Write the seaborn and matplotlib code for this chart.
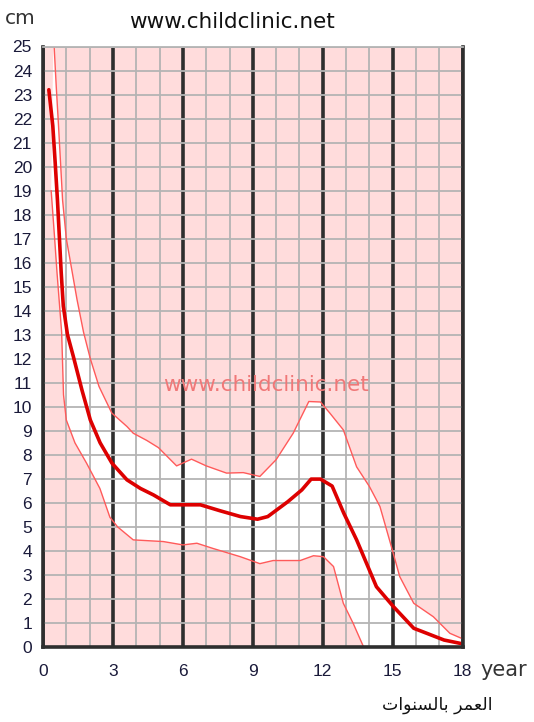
import numpy as np
import pandas as pd
import matplotlib
matplotlib.use("Agg")
import matplotlib.pyplot as plt
import seaborn as sns

# ---- data ----
median_age = [0.25, 0.42, 0.52, 0.62, 0.70, 0.78, 0.87, 1.05, 1.30, 1.67, 2.03, 2.45, 2.96,
              3.60, 4.18, 4.74, 5.46, 6.75, 7.60, 8.47, 9.20, 9.64, 10.5, 11.1, 11.5, 11.9,
              12.4, 12.9, 13.45, 14.3, 15.03, 15.9, 16.46, 17.2, 17.9]
median_cm = [23.2, 21.7, 20.2, 18.6, 17.1, 15.6, 14.2, 13.0, 12.1, 10.7, 9.45, 8.5, 7.65,
             6.96, 6.6, 6.33, 5.92, 5.92, 5.67, 5.43, 5.32, 5.43, 6.05, 6.54, 6.99, 6.99,
             6.7, 5.57, 4.46, 2.51, 1.68, 0.78, 0.57, 0.29, 0.15]

upper_age = [0.45, 0.57, 0.66, 0.84, 1.0, 1.46, 1.74, 2.03, 2.4, 2.95, 3.6, 3.87, 4.45, 4.95,
             5.73, 6.37, 7.0, 7.87, 8.59, 9.3, 10.0, 10.73, 11.4, 11.9, 12.3, 12.88, 13.45,
             14.0, 14.45, 14.9, 15.3, 15.9, 16.74, 17.45, 17.95]
upper_cm = [25.5, 23.3, 21.8, 18.6, 17.0, 14.46, 13.1, 12.0, 10.85, 9.74, 9.18, 8.9, 8.6, 8.3,
            7.54, 7.82, 7.54, 7.24, 7.26, 7.1, 7.8, 8.9, 10.22, 10.2, 9.74, 9.04, 7.5,
            6.68, 5.85, 4.32, 2.93, 1.82, 1.26, 0.57, 0.36]

lower_age = [0.35, 0.5, 0.6, 0.8, 0.88, 1.0, 1.37, 1.87, 2.44, 2.87, 3.2, 3.87, 5.16, 6.0,
             6.6, 7.3, 8.46, 9.3, 9.87, 11.03, 11.6, 12.03, 12.46, 12.88, 13.3, 13.75]
lower_cm = [19.0, 17.0, 15.6, 13.1, 10.5, 9.45, 8.5, 7.65, 6.6, 5.4, 5.0, 4.46, 4.39, 4.25,
            4.32, 4.1, 3.76, 3.47, 3.6, 3.6, 3.8, 3.76, 3.35, 1.82, 0.99, 0.0]

x_ticks = [0, 3, 6, 9, 12, 15, 18]
y_ticks = list(range(0, 26))
title_text = "www.childclinic.net"
watermark_text = "www.childclinic.net"
x_unit = "year"
y_unit = "cm"
# Arabic "العمر بالسنوات" in shaped presentation forms (visual order)
x_label_ar = "\ufe95\ufe8d\ufeee\ufee8\ufeb4\ufedf\ufe8e\ufe91 \ufeae\ufee4\ufecc\ufedf\ufe8d"

PINK = "#ffdcdc"

sns.set_style("white")
plt.rcParams["font.family"] = ["Liberation Sans", "DejaVu Sans"]

fig = plt.figure(figsize=(5.34, 7.22), dpi=100)
ax = fig.add_axes([43 / 534, 1 - 647 / 722, (462.7 - 43) / 534, (647 - 46.5) / 722])
ax.set_facecolor(PINK)

xmin, xmax = x_ticks[0], x_ticks[-1]
ymin, ymax = y_ticks[0], y_ticks[-1]

# white band between upper and lower curves
poly_x = list(upper_age) + [xmax] + list(lower_age[::-1])
poly_y = list(upper_cm) + [ymin] + list(lower_cm[::-1])
ax.fill(poly_x, poly_y, color="white", zorder=1, lw=0)

df_med = pd.DataFrame({"age": median_age, "cm": median_cm})
df_up = pd.DataFrame({"age": upper_age, "cm": upper_cm})
df_lo = pd.DataFrame({"age": lower_age, "cm": lower_cm})

sns.lineplot(data=df_up, x="age", y="cm", ax=ax, color="#ff5a5a", lw=1.0, sort=False, zorder=4)
sns.lineplot(data=df_lo, x="age", y="cm", ax=ax, color="#ff5a5a", lw=1.0, sort=False, zorder=4)
sns.lineplot(data=df_med, x="age", y="cm", ax=ax, color="#dd0000", lw=2.6, sort=False, zorder=5)

ax.set_xlim(xmin, xmax)
ax.set_ylim(ymin, ymax)

# grid
ax.set_axisbelow(False)
ax.set_xticks(x_ticks)
ax.set_xticks(np.arange(xmin, xmax + 1, 1), minor=True)
ax.set_yticks(y_ticks)
ax.grid(which="minor", axis="x", color="#b4b4b4", lw=1.3, zorder=2)
ax.grid(which="major", axis="y", color="#b4b4b4", lw=1.3, zorder=2)
ax.grid(which="major", axis="x", color="#2e2e2e", lw=2.6, zorder=3)

for s in ["left", "bottom", "right"]:
    ax.spines[s].set_color("#2e2e2e")
    ax.spines[s].set_linewidth(2.6)
ax.spines["top"].set_color("#b4b4b4")
ax.spines["top"].set_linewidth(1.3)
for sp in ax.spines.values():
    sp.set_zorder(6)

ax.tick_params(axis="both", which="both", length=0)
ax.tick_params(axis="y", pad=8, labelsize=12.5, labelcolor="#1a1a3a")
ax.tick_params(axis="x", pad=12, labelsize=12.5, labelcolor="#1a1a3a")
ax.set_xlabel("")
ax.set_ylabel("")

# watermark
ax.text(9.55, 10.9, watermark_text, color="#f07878", fontsize=15.5,
        ha="center", va="center", zorder=3.5, family=["DejaVu Sans"])

# texts
fig.text(232 / 534, 1 - 22 / 722, title_text, ha="center", va="center",
         fontsize=15.5, color="#111111", family=["DejaVu Sans"])
fig.text(20 / 534, 1 - 18 / 722, y_unit, ha="center", va="center",
         fontsize=14.5, color="#333333", family=["DejaVu Sans"])
fig.text(504 / 534, 1 - 670 / 722, x_unit, ha="center", va="center",
         fontsize=15, color="#333333", family=["DejaVu Sans"])
fig.text(437 / 534, 1 - 705 / 722, x_label_ar, ha="center", va="center",
         fontsize=12.5, color="#111111", family=["DejaVu Sans"])

fig.savefig("out.png", dpi=100)
